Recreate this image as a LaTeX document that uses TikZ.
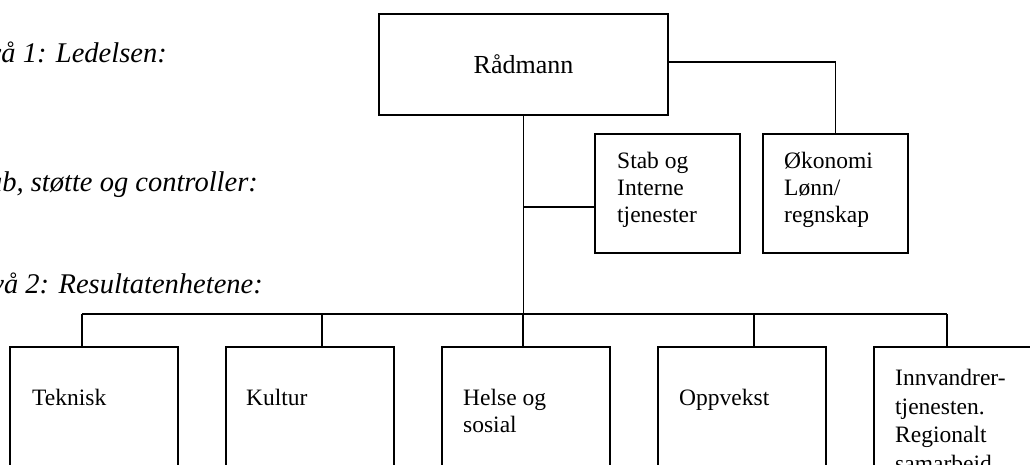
\documentclass[tikz,border=0pt]{standalone}
\usepackage{fontspec}
\setmainfont{Liberation Serif}
\usetikzlibrary{positioning}

\begin{document}
\begin{tikzpicture}[x=1pt,y=-1pt]
\tikzstyle{boss}=[rectangle, draw=black, line width=1.4pt, outer sep=0pt, minimum width=289pt, minimum height=101pt, anchor=north west, font=\fontsize{26}{31}\selectfont]
\tikzstyle{staff}=[rectangle, draw=black, line width=1.4pt, outer sep=0pt, minimum width=145pt, minimum height=119pt, anchor=north west]
\tikzstyle{unit}=[rectangle, draw=black, line width=1.4pt, outer sep=0pt, minimum width=168pt, minimum height=150pt, anchor=north west, node distance=48pt]
\tikzstyle{txt}=[anchor=north west, inner sep=0pt, align=left, font=\fontsize{23.5}{27}\selectfont]
\tikzstyle{level}=[anchor=base east, inner sep=0pt, font=\fontsize{28.5}{33}\selectfont\itshape]
\tikzstyle{connect}=[line width=1.2pt]
\useasboundingbox (0,0) rectangle (1030,465);

% levels on the left
\node[level] (lvla) at (167,63) {Nivå 1: Ledelsen:};
\node[level] (lvlb) at (258,192) {Stab, støtte og controller:};
\node[level] (lvlc) at (263,293) {Nivå 2: Resultatenhetene:};

% top
\node[boss] (rad) at (379,14) {Rådmann};
\node[staff, label={[txt, xshift=22pt, yshift=-18pt]north west:Stab og\\Interne\\tjenester}] (stab) at (595,134) {};
\node[staff, label={[txt, xshift=21pt, yshift=-18pt]north west:Økonomi\\Lønn/\\regnskap}] (oko) [right=23pt of stab] {};

% units
\node[unit, label={[txt, xshift=22pt, yshift=-42pt]north west:Teknisk}] (tek) at (10,347) {};
\node[unit, label={[txt, xshift=20pt, yshift=-42pt]north west:Kultur}] (kul) [right=of tek] {};
\node[unit, label={[txt, xshift=21pt, yshift=-42pt]north west:Helse og\\sosial}] (hel) [right=of kul] {};
\node[unit, label={[txt, xshift=21pt, yshift=-42pt]north west:Oppvekst}] (opp) [right=of hel] {};
\node[unit, label={[txt, xshift=21pt, yshift=-22pt, font=\fontsize{23.5}{28.5}\selectfont]north west:Innvandrer-\\tjenesten.\\Regionalt\\samarbeid}] (inn) [right=of opp] {};

\coordinate (bus) at (524,314);
\coordinate (stabin) at ([yshift=-13.5pt]stab.west);
\foreach \u/\s in {tek/-12,kul/12,hel/-3,opp/12,inn/-11}
  \coordinate (\u top) at ([xshift=\s pt]\u.north);

\draw[connect] (rad.south) -- (rad.south |- bus);
\draw[connect] (rad.south |- stabin) -- (stabin);
\draw[connect] ([yshift=2.5pt]rad.east) -| (oko.north);
\draw[connect] (tektop |- bus) -- (inntop |- bus);
\foreach \u in {tek,kul,hel,opp,inn}
  \draw[connect] (\u top) -- (\u top |- bus);
\end{tikzpicture}
\end{document}
